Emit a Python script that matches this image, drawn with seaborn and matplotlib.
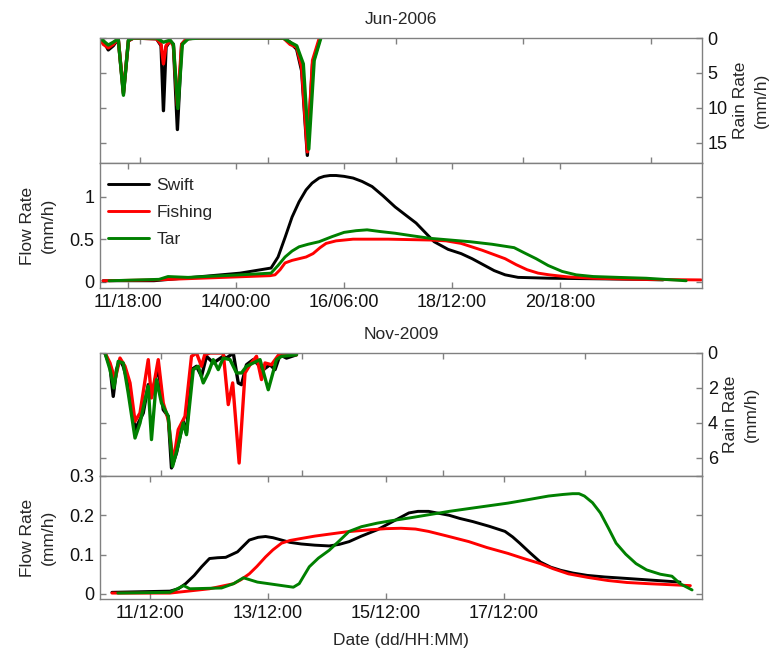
import numpy as np
import pandas as pd
import seaborn as sns
import matplotlib.pyplot as plt
import matplotlib.dates as mdates

# ---------------- Jun-2006 ----------------
# rain panel has its own time axis (hours after 11/18:00)
jun_base = pd.Timestamp('2006-06-11 18:00')

jun_rain_swift_h = [-16.9, -15.5, -13.4, -11.3, -9.2, -7.0, -4.9, -2.8, 7.0, 8.9, 9.9, 11.0, 12.7, 14.1,
                    15.8, 17.6, 19.7, 23.9, 60.6, 63.4, 66.2, 68.3, 70.7, 72.9, 76.1]
jun_rain_swift = [0.3, 0.4, 1.7, 1.1, 0.1, 8.0, 0.4, 0.0, 0.1, 1.1, 10.4, 1.3, 0.4, 0.9,
                  13.1, 0.9, 0.1, 0.0, 0.0, 0.6, 1.6, 4.7, 16.8, 3.7, 0.0]
jun_rain_fishing_h = [-16.9, -15.5, -13.4, -11.3, -9.2, -7.0, -4.9, -2.8, 7.0, 8.9, 9.9, 11.0, 12.7, 14.1,
                      15.8, 17.6, 19.7, 23.9, 60.6, 63.4, 66.2, 68.3, 70.7, 72.9, 75.8]
jun_rain_fishing = [0.1, 0.9, 1.4, 0.9, 0.1, 7.8, 0.4, 0.0, 0.1, 0.9, 3.7, 1.1, 0.4, 1.1,
                    9.7, 0.9, 0.1, 0.0, 0.0, 0.9, 1.3, 4.2, 16.3, 3.2, 0.0]
jun_rain_tar_h = [-16.9, -15.5, -13.4, -11.3, -9.2, -7.0, -4.9, -2.8, 7.0, 9.9, 12.7, 14.1,
                  16.0, 17.9, 20.4, 25.3, 60.6, 63.4, 66.2, 69.0, 71.3, 73.6, 76.4]
jun_rain_tar = [0.0, 0.4, 1.0, 0.6, 0.1, 8.2, 0.3, 0.0, 0.0, 0.6, 0.3, 0.9,
                10.1, 0.9, 0.1, 0.0, 0.0, 0.6, 1.1, 3.7, 15.9, 3.2, 0.0]

jun_flow_swift_h = [-12.5, 13, 56, 71.5, 75, 78.5, 82, 85.5, 89, 92, 95.5, 98, 101, 104, 108, 112.5,
                    117, 122, 127.5, 133.5, 139, 144, 153, 160, 166.5, 172, 177.5, 183, 188.5, 195,
                    210.5, 254.5, 267.5]
jun_flow_swift = [0.01, 0.01, 0.10, 0.16, 0.29, 0.52, 0.76, 0.94, 1.08, 1.16, 1.22, 1.24, 1.25, 1.25,
                  1.24, 1.22, 1.18, 1.12, 1.01, 0.88, 0.78, 0.69, 0.47, 0.38, 0.33, 0.27, 0.20, 0.13,
                  0.08, 0.05, 0.04, 0.027, 0.02]
jun_flow_fishing_h = [-12.5, 13, 71, 73.5, 76, 78.5, 82, 85.5, 89, 92.5, 96, 99, 104, 112.5, 130, 151,
                      159, 166.5, 177, 188.5, 194, 199.5, 205, 210.5, 220, 232.5, 254.5, 286.5]
jun_flow_fishing = [0.01, 0.02, 0.07, 0.08, 0.14, 0.22, 0.25, 0.27, 0.29, 0.33, 0.40, 0.45, 0.48, 0.50,
                    0.50, 0.49, 0.48, 0.45, 0.37, 0.27, 0.20, 0.14, 0.10, 0.08, 0.055, 0.04, 0.027, 0.02]
jun_flow_tar_h = [-9.5, 15.5, 20, 30, 56, 71.5, 75, 78.5, 82, 85.5, 90, 95.5, 102, 108, 114, 119.5,
                  126, 133.5, 142, 151, 161, 171, 182, 193, 198, 204, 210, 217, 224, 232.5, 245, 259, 279]
jun_flow_tar = [0.01, 0.027, 0.06, 0.05, 0.08, 0.10, 0.19, 0.29, 0.36, 0.41, 0.44, 0.47, 0.53, 0.58,
                0.60, 0.61, 0.59, 0.57, 0.54, 0.51, 0.49, 0.47, 0.44, 0.40, 0.34, 0.27, 0.19, 0.12,
                0.08, 0.06, 0.05, 0.04, 0.01]

jun_ticks = ['2006-06-11 18:00', '2006-06-14 00:00', '2006-06-16 06:00', '2006-06-18 12:00', '2006-06-20 18:00']
jun_rain_xlim = ('2006-06-11 01:06', '2006-06-21 15:30')
jun_flow_xlim = ('2006-06-11 04:00', '2006-06-23 17:00')

# ---------------- Nov-2009 (hours after 11/12:00) ----------------
nov_base = pd.Timestamp('2009-11-11 12:00')

nov_rain_swift_h = [-19.0, -17.3, -16.2, -15.1, -13.9, -12.8, -10.5, -8.8, -7.1, -6.0, -4.3, -3.2, -0.9,
                    0.8, 2.5, 3.6, 5.3, 7.6, 8.7, 10.4, 12.1, 13.8, 15.5, 17.8, 21.2, 22.3, 24.6,
                    26.3, 27.4, 29.1, 31.4, 34.8, 37.1, 38.8, 40.5, 42.7, 46.1]
nov_rain_swift = [0, 0.76, 2.48, 0.95, 0.38, 0.76, 2.1, 4.38, 3.81, 3.43, 1.81, 2.48, 0.76,
                  3.24, 3.62, 6.57, 5.71, 3.9, 4.57, 0.95, 0.76, 1.33, 0.19, 0.57, 0.19, 0.29, 0,
                  1.71, 1.81, 0.67, 0.38, 0.95, 0.67, 0.95, 0.1, 0.29, 0.1]
nov_rain_fishing_h = [-19.0, -17.3, -15.6, -13.9, -12.2, -10.5, -8.8, -7.1, -4.3, -3.2, -0.9, 0.8, 2.5,
                      4.2, 5.9, 8.2, 10.4, 12.1, 13.8, 14.9, 16.7, 21.2, 22.9, 24.4, 26.6, 28.6,
                      30.3, 32.5, 34.2, 35.4, 37.6, 40.5, 46.1]
nov_rain_fishing = [0, 0.57, 1.52, 0.29, 0.76, 1.71, 3.9, 3.43, 0.38, 2.57, 0.38, 2.86, 3.81,
                    6.29, 4.38, 3.62, 0.19, 0, 0.76, 0.1, 0, 0, 2.95, 1.71, 6.29, 1.14,
                    0.67, 0.19, 1.52, 0.57, 0.67, 0, 0.1]
nov_rain_tar_h = [-19.0, -17.3, -16.0, -14.5, -12.8, -11.1, -8.8, -7.1, -5.4, -4.3, -3.2, -1.5, 0.2,
                  2.5, 3.97, 5.5, 7.6, 8.7, 11.0, 12.7, 14.4, 16.1, 17.8, 19.5, 21.2, 23.5, 25.7,
                  27.4, 29.1, 31.4, 33.7, 36.5, 37.6, 39.3, 41.0, 46.1]
nov_rain_tar = [0, 0.95, 2.0, 0.48, 0.57, 2.29, 4.86, 4.0, 2.67, 1.9, 4.95, 1.52, 2.86,
                3.62, 6.48, 5.52, 4.0, 4.67, 0.95, 0.76, 1.71, 1.14, 0.38, 0.95, 0.29, 0.38, 1.14,
                1.14, 0.76, 0.57, 0.38, 2.1, 1.43, 0.38, 0.19, 0.1]

nov_flow_swift_h = [-15.5, 8.1, 11.5, 14.5, 18, 21.0, 24.2, 27.5, 30.8, 35.6, 38, 40.4, 44, 47.0, 50,
                    53.5, 57, 61.5, 67, 72.9, 77, 81.0, 86, 92.4, 99, 105.3, 109, 113.3, 117.5, 121.7,
                    126, 131.3, 138, 144.4, 147.5, 150.4, 154.5, 158.8, 163, 167.1, 172, 177.9, 185,
                    194.6, 215.6]
nov_flow_swift = [0.004, 0.007, 0.013, 0.026, 0.047, 0.069, 0.09, 0.092, 0.093, 0.107, 0.122, 0.137,
                  0.144, 0.146, 0.143, 0.137, 0.131, 0.127, 0.124, 0.122, 0.126, 0.133, 0.147, 0.163,
                  0.185, 0.206, 0.21, 0.21, 0.205, 0.20, 0.192, 0.184, 0.172, 0.159, 0.145, 0.129,
                  0.105, 0.081, 0.068, 0.06, 0.053, 0.047, 0.043, 0.039, 0.03]
nov_flow_fishing_h = [-15.5, 8.1, 24.2, 34.0, 37, 40.4, 43.5, 47.0, 50, 53.5, 57, 61.5, 67, 72.9, 80,
                      89.2, 96, 102.1, 108, 113.3, 121, 129.7, 137, 145.6, 152, 158.8, 164, 170.2, 178,
                      186.3, 194, 202.6, 219.8]
nov_flow_fishing = [0.002, 0.002, 0.013, 0.026, 0.036, 0.051, 0.07, 0.094, 0.112, 0.129, 0.136, 0.141,
                    0.147, 0.152, 0.158, 0.163, 0.166, 0.167, 0.165, 0.159, 0.147, 0.133, 0.118, 0.103,
                    0.09, 0.077, 0.064, 0.051, 0.042, 0.034, 0.029, 0.026, 0.021]
nov_flow_tar_h = [-13.1, 8.1, 13.7, 16.2, 29.1, 34.0, 38.0, 43.7, 58.3, 60.7, 62.5, 64.8, 68.5, 72.9,
                  77, 81.0, 86, 92.4, 98, 105.3, 113, 121.7, 133, 145.6, 154, 162.1, 168, 171.9,
                  174.5, 176.7, 180, 183.2, 186.5, 189.6, 193.5, 197.7, 202, 207.6, 212.3, 215.6, 220.5]
nov_flow_tar = [0.002, 0.004, 0.021, 0.013, 0.015, 0.026, 0.041, 0.03, 0.017, 0.026, 0.045, 0.069,
                0.091, 0.111, 0.135, 0.159, 0.171, 0.18, 0.186, 0.193, 0.201, 0.21, 0.22, 0.231,
                0.24, 0.249, 0.253, 0.255, 0.255, 0.249, 0.232, 0.206, 0.167, 0.129, 0.101, 0.077,
                0.061, 0.05, 0.045, 0.026, 0.01]

nov_ticks = ['2009-11-11 12:00', '2009-11-13 12:00', '2009-11-15 12:00', '2009-11-17 12:00']
nov_rain_xlim = ('2009-11-10 15:18', '2009-11-19 04:00')
nov_flow_xlim = ('2009-11-10 15:40', '2009-11-20 20:36')

names = ['Swift', 'Fishing', 'Tar']
colors = ['#000000', '#ff0000', '#008000']


def to_time(base, hours):
    return base + pd.to_timedelta(np.asarray(hours, dtype=float), unit='h')


sns.set_style('ticks')
plt.rcParams['font.family'] = ['Liberation Sans', 'DejaVu Sans']
plt.rcParams['font.size'] = 12
plt.rcParams['axes.edgecolor'] = '#808080'
plt.rcParams['xtick.color'] = '#808080'
plt.rcParams['ytick.color'] = '#808080'
plt.rcParams['xtick.labelcolor'] = '#111111'
plt.rcParams['ytick.labelcolor'] = '#111111'

fig = plt.figure(figsize=(7.74, 6.56), dpi=100)
L, W = 0.1292, 0.778
ax1 = fig.add_axes([L, 0.7515, W, 0.1905])
ax2 = fig.add_axes([L, 0.561, W, 0.1905])
ax3 = fig.add_axes([L, 0.2744, W, 0.1875])
ax4 = fig.add_axes([L, 0.0869, W, 0.1875])


def style(ax, ticks, xlim):
    ax.set_xlim(mdates.date2num(pd.Timestamp(xlim[0])), mdates.date2num(pd.Timestamp(xlim[1])))
    ax.set_xticks(mdates.date2num(pd.to_datetime(ticks)))
    ax.xaxis.set_major_formatter(mdates.DateFormatter('%d/%H:%M'))
    ax.tick_params(direction='in', length=4.5, width=1, top=True, bottom=True, left=True, right=True,
                   labelsize=13, pad=4)
    for s in ax.spines.values():
        s.set_visible(True)
        s.set_linewidth(1)
        s.set_color('#808080')
    ax.set_xlabel('')
    ax.set_ylabel('')


def rain_panel(ax, base, hs, vs, ticks, xlim, ylim, yticks, title):
    for h, v, c in zip(hs, vs, colors):
        sns.lineplot(x=to_time(base, h), y=v, ax=ax, color=c, lw=2.4, estimator=None, sort=False,
                     legend=False)
    style(ax, ticks, xlim)
    ax.set_ylim(ylim, 0)
    ax.set_yticks(yticks)
    ax.tick_params(labelleft=False, labelright=True, labelbottom=False)
    ax.yaxis.set_label_position('right')
    ax.set_ylabel('Rain Rate\n(mm/h)', fontsize=12.5, labelpad=4, linespacing=1.45)
    ax.set_title(title, fontsize=12.5, pad=10)


def flow_panel(ax, base, hs, vs, ticks, xlim, ylim, yticks, ylabels, legend):
    for h, v, c, n in zip(hs, vs, colors, names):
        sns.lineplot(x=to_time(base, h), y=v, ax=ax, color=c, lw=2.1, estimator=None, sort=False,
                     label=n)
    for ln in ax.get_lines():
        ln.set_solid_joinstyle('round')
    style(ax, ticks, xlim)
    ax.set_ylim(*ylim)
    ax.set_yticks(yticks)
    ax.set_yticklabels(ylabels)
    ax.set_ylabel('Flow Rate\n(mm/h)', fontsize=12.5, labelpad=10, linespacing=1.45)
    if legend:
        ax.legend(loc='upper left', bbox_to_anchor=(0.0, 0.94), frameon=False, fontsize=12.5,
                  handlelength=2.4, borderaxespad=0, labelspacing=0.68, handletextpad=0.4,
                  borderpad=0.45)
    else:
        lg = ax.get_legend()
        if lg is not None:
            lg.remove()


rain_panel(ax1, jun_base, [jun_rain_swift_h, jun_rain_fishing_h, jun_rain_tar_h],
           [jun_rain_swift, jun_rain_fishing, jun_rain_tar], jun_ticks, jun_rain_xlim, 17.9,
           [0, 5, 10, 15], 'Jun-2006')
flow_panel(ax2, jun_base, [jun_flow_swift_h, jun_flow_fishing_h, jun_flow_tar_h],
           [jun_flow_swift, jun_flow_fishing, jun_flow_tar], jun_ticks, jun_flow_xlim, (-0.075, 1.397),
           [0, 0.5, 1], ['0', '0.5', '1'], True)
rain_panel(ax3, nov_base, [nov_rain_swift_h, nov_rain_fishing_h, nov_rain_tar_h],
           [nov_rain_swift, nov_rain_fishing, nov_rain_tar], nov_ticks, nov_rain_xlim, 7.03,
           [0, 2, 4, 6], 'Nov-2009')
flow_panel(ax4, nov_base, [nov_flow_swift_h, nov_flow_fishing_h, nov_flow_tar_h],
           [nov_flow_swift, nov_flow_fishing, nov_flow_tar], nov_ticks, nov_flow_xlim, (-0.013, 0.3),
           [0, 0.1, 0.2, 0.3], ['0', '0.1', '0.2', '0.3'], False)
ax4.set_xlabel('Date (dd/HH:MM)', fontsize=12.5, labelpad=8)

fig.savefig('out.png', dpi=100)
